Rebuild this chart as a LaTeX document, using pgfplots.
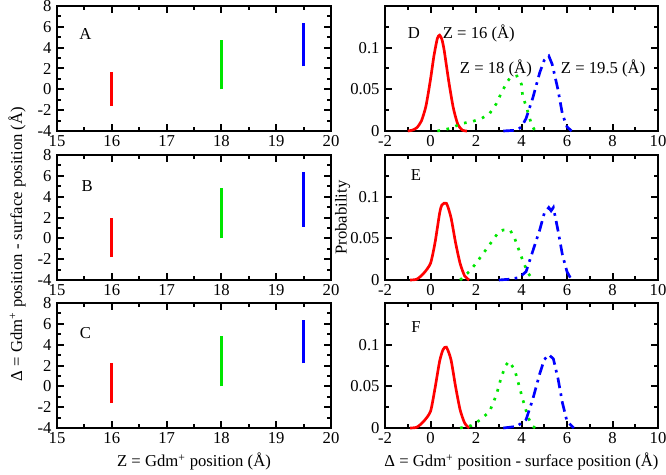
\documentclass[border=0pt]{standalone}
\usepackage{pgfplots}
\pgfplotsset{compat=1.18}
\usepackage{fontspec}
\setmainfont{Liberation Serif}
\definecolor{gred}{RGB}{255,0,0}
\definecolor{ggreen}{RGB}{0,230,0}
\definecolor{gblue}{RGB}{0,0,255}
\pgfplotsset{
  base/.style={
    scale only axis, height=93.75pt, anchor=north west,
    font=\fontsize{12.5}{15}\selectfont,
    /pgf/number format/assume math mode=true,
    tick align=inside, xtick pos=both, ytick pos=both,
    xticklabel pos=lower, yticklabel pos=left,
    major tick length=5.5pt, minor tick length=3pt,
    every tick/.style={line width=1.5pt, black},
    axis line style={line width=1.5pt},
    every axis/.append style={line width=1.5pt},
    xticklabel style={yshift=1pt},
    clip=false,
  },
  leftp/.style={base, width=205.5pt, xmin=15, xmax=20, ymin=-4, ymax=8,
    xtick={15,...,20}, ytick={-4,-2,...,8}, minor x tick num=1, minor y tick num=1},
  rightp/.style={base, width=204.75pt, xmin=-2, xmax=10, ymin=0, ymax=0.15,
    xtick={-2,0,...,10}, ytick={0,0.05,0.1}, minor x tick num=1,
    minor ytick={0.025,0.075,0.125},
    yticklabel style={/pgf/number format/fixed, /pgf/number format/precision=2}},
  vr/.style={gred, line width=2.2pt},
  vg/.style={ggreen, line width=2.2pt},
  vb/.style={gblue, line width=2.2pt},
  cr/.style={gred, line width=2pt, smooth, tension=0.4},
  cg/.style={ggreen, line width=2pt, dash pattern=on 2pt off 5pt},
  cb/.style={gblue, line width=2pt, dash pattern=on 8pt off 4pt on 2pt off 4pt},
}
\begin{document}
\begin{tikzpicture}
% ---------- left column ----------
\begin{axis}[leftp, at={(42.75pt,-4.5pt)}]
\addplot[vr] coordinates {(16,-1.6) (16,1.7)};
\addplot[vg] coordinates {(18,0) (18,4.7)};
\addplot[vb] coordinates {(19.5,2.2) (19.5,6.4)};
\node at (axis cs:15.52,5.3) {A};
\end{axis}
\begin{axis}[leftp, at={(42.75pt,-116.25pt)}]
\addplot[vr] coordinates {(16,-1.8) (16,1.95)};
\addplot[vg] coordinates {(18,0) (18,4.8)};
\addplot[vb] coordinates {(19.5,1.1) (19.5,6.4)};
\node at (axis cs:15.55,5.0) {B};
\end{axis}
\begin{axis}[leftp, at={(42.75pt,-227.25pt)},
  xlabel={Z = Gdm\textsuperscript{+} position (Å)}]
\addplot[vr] coordinates {(16,-1.6) (16,2.2)};
\addplot[vg] coordinates {(18,0) (18,4.8)};
\addplot[vb] coordinates {(19.5,2.2) (19.5,6.4)};
\node at (axis cs:15.52,5.1) {C};
\end{axis}
% ---------- right column ----------
\begin{axis}[rightp, at={(288.75pt,-4.5pt)}]
\addplot[cr] coordinates {(-1.0,0) (-0.8,0.001) (-0.6,0.004) (-0.4,0.012) (-0.2,0.03) (0,0.062) (0.15,0.09) (0.3,0.111) (0.4,0.115) (0.5,0.11) (0.6,0.097) (0.8,0.06) (1.0,0.028) (1.2,0.008) (1.4,0.001) (1.6,0)};
\addplot[cg] coordinates {(0.3,0) (0.7,0.002) (1.04,0.005) (1.35,0.009) (1.8,0.011) (2.24,0.015) (2.6,0.021) (2.9,0.033) (3.1,0.045) (3.35,0.058) (3.5,0.064) (3.8,0.066) (4.0,0.056) (4.05,0.042) (4.2,0.03) (4.45,0.007) (4.6,0)};
\addplot[cb] coordinates {(3.2,0) (3.8,0.001) (4.0,0.005) (4.2,0.015) (4.5,0.04) (4.8,0.07) (5.0,0.085) (5.2,0.09) (5.35,0.08) (5.6,0.05) (5.8,0.02) (6.0,0.005) (6.2,0)};
\node at (axis cs:-0.73,0.117) {D};
\node[anchor=west, inner sep=0pt] at (axis cs:0.5,0.117) {Z = 16 (Å)};
\node[anchor=west, inner sep=0pt] at (axis cs:1.25,0.0756) {Z = 18 (Å)};
\node[anchor=west, inner sep=0pt] at (axis cs:5.69,0.0756) {Z = 19.5 (Å)};
\end{axis}
\begin{axis}[rightp, at={(288.75pt,-116.25pt)}, ylabel={Probability},
  ylabel style={at={(axis description cs:-0.155,0.5)}, anchor=center}]
\addplot[cr] coordinates {(-0.9,0) (-0.6,0.001) (-0.3,0.008) (0,0.02) (0.2,0.045) (0.4,0.08) (0.5,0.09) (0.7,0.092) (0.9,0.075) (1.1,0.045) (1.3,0.02) (1.5,0.005) (1.7,0)};
\addplot[cg] coordinates {(1.3,0) (1.7,0.01) (2.0,0.02) (2.4,0.035) (2.8,0.05) (3.0,0.058) (3.2,0.06) (3.5,0.06) (3.7,0.05) (3.9,0.035) (4.1,0.02) (4.3,0.008) (4.5,0)};
\addplot[cb] coordinates {(3.0,0) (3.5,0.001) (3.9,0.003) (4.2,0.01) (4.5,0.035) (4.8,0.06) (5.0,0.08) (5.2,0.087) (5.3,0.083) (5.4,0.087) (5.6,0.06) (5.8,0.03) (6.0,0.01) (6.2,0)};
\node at (axis cs:-0.64,0.126) {E};
\end{axis}
\begin{axis}[rightp, at={(288.75pt,-227.25pt)},
  xlabel={Δ = Gdm\textsuperscript{+} position - surface position (Å)}]
\addplot[cr] coordinates {(-0.9,0) (-0.6,0.001) (-0.3,0.008) (0,0.02) (0.2,0.048) (0.4,0.08) (0.55,0.094) (0.7,0.097) (0.9,0.082) (1.1,0.05) (1.3,0.022) (1.5,0.006) (1.7,0)};
\addplot[cg] coordinates {(1.3,0) (1.8,0.003) (2.2,0.01) (2.6,0.02) (2.9,0.04) (3.1,0.06) (3.3,0.075) (3.45,0.08) (3.7,0.07) (3.9,0.05) (4.1,0.03) (4.3,0.012) (4.5,0.002) (4.6,0)};
\addplot[cb] coordinates {(3.2,0) (3.8,0.002) (4.2,0.01) (4.5,0.035) (4.8,0.065) (5.0,0.082) (5.2,0.088) (5.4,0.083) (5.6,0.06) (5.8,0.03) (6.0,0.008) (6.3,0)};
\node at (axis cs:-0.64,0.1206) {F};
\end{axis}
\node[rotate=90, font=\fontsize{12.5}{15}\selectfont] at (12.75pt,-183pt) {Δ = Gdm\textsuperscript{+} position - surface position (Å)};
\pgfresetboundingbox
\path (0pt,0pt) rectangle (499.5pt,-355.5pt);
\end{tikzpicture}
\end{document}
